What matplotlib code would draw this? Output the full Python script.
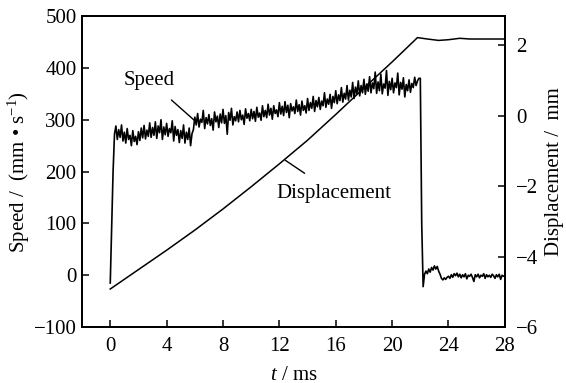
import numpy as np
import matplotlib
matplotlib.use("Agg")
import matplotlib.pyplot as plt

plt.rcParams['font.family'] = ['Liberation Serif', 'DejaVu Serif']
plt.rcParams['mathtext.fontset'] = 'custom'
plt.rcParams['mathtext.rm'] = 'Liberation Serif'
plt.rcParams['mathtext.it'] = 'Liberation Serif:italic'

# speed samples, every 0.1 ms from 0 to 28 ms (mm/s)
speed = [
    -15, 90, 200, 272, 288, 262, 281, 266, 290, 259,
    276, 255, 283, 262, 270, 250, 279, 258, 268, 252,
    277, 260, 284, 265, 289, 263, 280, 268, 294, 266,
    285, 270, 296, 264, 288, 275, 300, 262, 286, 271,
    293, 268, 283, 275, 298, 259, 287, 270, 281, 256,
    279, 264, 290, 255, 276, 262, 284, 250, 273, 281,
    305, 290, 312, 286, 301, 295, 318, 283, 304, 292,
    310, 289, 302, 280, 315, 296, 307, 285, 311, 294,
    320, 293, 308, 272, 314, 299, 322, 290, 306, 298,
    315, 296, 318, 300, 309, 291, 321, 303, 312, 298,
    320, 302, 316, 297, 324, 305, 313, 299, 327, 306,
    318, 304, 330, 309, 322, 301, 327, 312, 319, 306,
    333, 311, 326, 308, 335, 314, 328, 304, 331, 317,
    325, 312, 338, 316, 329, 309, 336, 318, 327, 313,
    341, 318, 333, 322, 345, 316, 337, 325, 343, 320,
    336, 327, 352, 324, 340, 330, 349, 322, 345, 333,
    356, 331, 348, 337, 362, 334, 351, 340, 366, 338,
    357, 344, 372, 341, 363, 350, 375, 346, 366, 352,
    378, 349, 369, 355, 383, 352, 371, 360, 392, 351,
    373, 356, 388, 350, 369, 361, 395, 347, 374, 358,
    380, 352, 371, 362, 390, 348, 372, 359, 381, 344,
    368, 356, 377, 353, 370, 362, 382, 366, 375, 380,
    380, 100, -22, 2, 8, 3, 12, 6, 15, 10,
    18, 12, 17, 8, 2, -6, -9, -5, -8, -4,
    -2, -6, 1, -4, 3, -1, 4, -3, 2, -5,
    1, -3, 3, -7, 0, -2, 2, -4, -12, 1,
    -3, 2, -5, 0, -2, 3, -6, 1, -3, 0,
    -4, 2, -1, -6, 1, -3, 2, -8, 0, -2,
    -1,
]
t_speed = np.round(np.arange(len(speed)) * 0.1, 2)

# displacement (mm)
t_disp = [0, 2, 4, 6, 8, 10, 12, 14, 16, 18, 20, 21.8, 22.5, 23.3, 24.0, 24.8, 25.5, 28]
disp = [-4.92, -4.37, -3.82, -3.25, -2.65, -2.02, -1.37, -0.70, 0.03, 0.78, 1.52,
        2.21, 2.17, 2.13, 2.15, 2.19, 2.17, 2.17]

x_ticks = [0, 4, 8, 12, 16, 20, 24, 28]
speed_ticks = [-100, 0, 100, 200, 300, 400, 500]
disp_ticks = [-6, -4, -2, 0, 2]

FS = 15

fig = plt.figure(figsize=(5.66, 3.83), dpi=100)
ax = fig.add_axes([0.145, 0.146, 0.747, 0.812])
ax2 = ax.twinx()

ax.plot(t_speed, speed, color='black', lw=1.2)
ax2.plot(t_disp, disp, color='black', lw=1.1)

ax.set_xlim(-2, 28)
ax.set_ylim(-100, 500)
ax2.set_ylim(-6, 2.82)
ax.set_xticks(x_ticks)
ax.set_yticks(speed_ticks)
ax2.set_yticks(disp_ticks)
ax2.set_yticklabels(['\u22126', '\u22124', '\u22122', '0', '2'])
ax.set_yticklabels(['\u2212100', '0', '100', '200', '300', '400', '500'])

for a in (ax, ax2):
    a.tick_params(direction='in', length=5, width=1.1, labelsize=FS)
    for s in a.spines.values():
        s.set_linewidth(1.3)
ax.tick_params(axis='y', pad=4)
ax.tick_params(axis='x', pad=7)
ax2.tick_params(axis='y', pad=8)

ax.set_xlabel(r'$t$ / ms', fontsize=FS, labelpad=7)
ax.set_ylabel('Speed /  (mm \u2022 s$^{-1}$)', fontsize=FS, labelpad=1)
ax2.set_ylabel('Displacement /  mm', fontsize=FS, labelpad=5)

# annotations
ax.annotate('Speed', xy=(5.96, 299), xytext=(2.77, 376), fontsize=FS,
            ha='center', va='center',
            arrowprops=dict(arrowstyle='-', color='black', lw=1.0, shrinkA=8, shrinkB=0))
ax.annotate('Displacement', xy=(12.41, 222), xytext=(15.9, 158), fontsize=FS,
            ha='center', va='center',
            arrowprops=dict(arrowstyle='-', color='black', lw=1.0, shrinkA=10, shrinkB=0))

fig.savefig('out.png', dpi=100)
